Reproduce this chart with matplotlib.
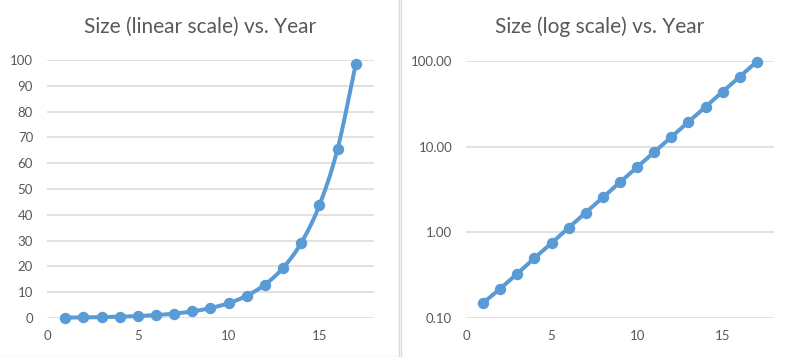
import numpy as np
import matplotlib
matplotlib.use("Agg")
import matplotlib.pyplot as plt
from matplotlib.lines import Line2D
from matplotlib.ticker import FixedLocator, FuncFormatter

plt.rcParams['font.family'] = ['Lato', 'DejaVu Sans']

years = [1, 2, 3, 4, 5, 6, 7, 8, 9, 10, 11, 12, 13, 14, 15, 16, 17]
sizes = [0.15, 0.22, 0.33, 0.50, 0.75, 1.13, 1.70, 2.56, 3.84, 5.77,
         8.65, 12.97, 19.46, 29.19, 43.79, 65.68, 98.5]
left_title = "Size (linear scale) vs. Year"
right_title = "Size (log scale) vs. Year"
x_ticks = [0, 5, 10, 15]
lin_ticks = [0, 10, 20, 30, 40, 50, 60, 70, 80, 90, 100]
log_ticks = [0.1, 1, 10, 100]

BLUE = "#5B9BD5"
GRID = "#D9D9D9"
TXT = "#595959"


def smooth(xs, ys, n=20):
    """Catmull-Rom curve through the points (drawing only)."""
    x = np.asarray(xs, float)
    y = np.asarray(ys, float)
    px = np.concatenate([[2 * x[0] - x[1]], x, [2 * x[-1] - x[-2]]])
    py = np.concatenate([[2 * y[0] - y[1]], y, [2 * y[-1] - y[-2]]])
    ox, oy = [], []
    t = np.linspace(0, 1, n, endpoint=False)
    for i in range(1, len(px) - 2):
        for P, out in ((px, ox), (py, oy)):
            p0, p1, p2, p3 = P[i - 1], P[i], P[i + 1], P[i + 2]
            out.extend(0.5 * ((2 * p1) + (-p0 + p2) * t
                              + (2 * p0 - 5 * p1 + 4 * p2 - p3) * t ** 2
                              + (-p0 + 3 * p1 - 3 * p2 + p3) * t ** 3))
    ox.append(x[-1]); oy.append(y[-1])
    return np.array(ox), np.array(oy)


fig = plt.figure(figsize=(8, 3.57), dpi=100)
H = 357.0
W = 800.0

def ax_rect(x0, x1, ytop, ybot):
    return [x0 / W, (H - ybot) / H, (x1 - x0) / W, (ybot - ytop) / H]

axL = fig.add_axes(ax_rect(47, 374, 60, 318))
axR = fig.add_axes(ax_rect(466, 774, 61, 318))

for ax in (axL, axR):
    for s in ax.spines.values():
        s.set_visible(False)
    ax.tick_params(length=0, colors=TXT, labelsize=9.5)
    ax.tick_params(axis='y', pad=10)
    ax.tick_params(axis='x', pad=9)
    ax.yaxis.grid(True, color=GRID, linewidth=1.1)
    ax.set_axisbelow(True)
    ax.set_xlim(0, 18)
    ax.xaxis.set_major_locator(FixedLocator(x_ticks))

# Left: linear, smoothed line
sx, sy = smooth(years, sizes)
axL.plot(sx, sy, color=BLUE, lw=2.9, solid_capstyle='round', zorder=3,
         clip_on=False)
axL.plot(years, sizes, 'o', color=BLUE, ms=7.2, zorder=4, clip_on=False)
axL.set_ylim(0, 100)
axL.yaxis.set_major_locator(FixedLocator(lin_ticks))

# Right: log scale
axR.set_yscale('log')
axR.plot(years, sizes, '-o', color=BLUE, lw=2.9, ms=7.2, zorder=3,
         clip_on=False, solid_capstyle='round')
axR.set_ylim(0.1, 100)
axR.yaxis.set_major_locator(FixedLocator(log_ticks))
axR.yaxis.set_minor_locator(FixedLocator([]))
axR.yaxis.set_major_formatter(FuncFormatter(lambda v, p: f"{v:.2f}"))

fig.text(200 / W, 1 - 27 / H, left_title, ha='center', va='center',
         fontsize=15, color=TXT)
fig.text(600 / W, 1 - 27 / H, right_title, ha='center', va='center',
         fontsize=15, color=TXT)

# chart borders
fig.add_artist(Line2D([398.5 / W, 398.5 / W], [0, 1], color="#D9D9D9", lw=1,
                      transform=fig.transFigure))
fig.add_artist(Line2D([401.5 / W, 401.5 / W], [0, 1], color="#D9D9D9", lw=1,
                      transform=fig.transFigure))
fig.add_artist(Line2D([0, 398.5 / W], [0.5 / H, 0.5 / H], color="#D9D9D9", lw=1,
                      transform=fig.transFigure))

fig.savefig("out.png", dpi=100)
